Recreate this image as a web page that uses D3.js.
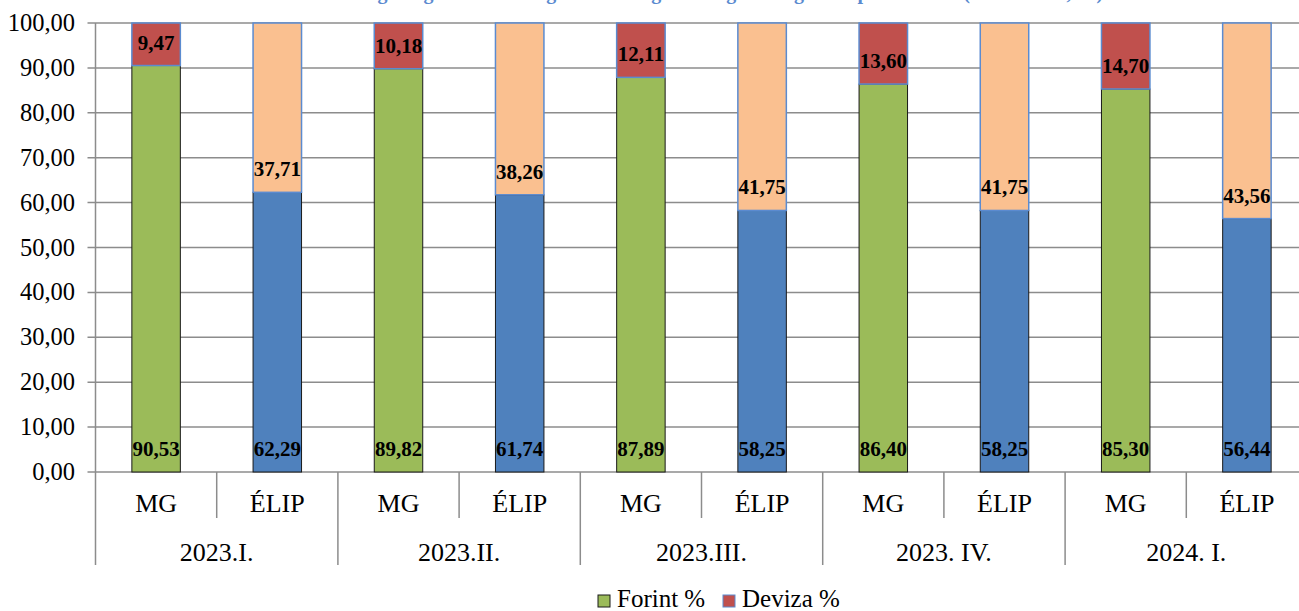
<!DOCTYPE html>
<html lang="hu">
<head>
<meta charset="UTF-8">
<title>Forint / Deviza</title>
<script src="https://d3js.org/d3.v7.min.js"></script>
<style>
    body { margin: 0; padding: 0; background: #fff; }
    svg text { font-family: "Times New Roman", "Liberation Serif", "DejaVu Serif", serif; }
    .grid line { stroke: #8c8c8c; stroke-width: 1.5px; }
    .ylab { font-size: 24.5px; fill: #000; }
    .xlab { font-size: 26px; fill: #000; }
    .val { font-size: 21px; font-weight: bold; fill: #000; }
    .legend text { font-size: 25px; fill: #000; }
</style>
</head>
<body>
<div id="chart"></div>
<script>
    // data
    const periods = ["2023.I.", "2023.II.", "2023.III.", "2023. IV.", "2024. I."];
    const types = ["MG", "ÉLIP"];
    const forint = [90.53, 62.29, 89.82, 61.74, 87.89, 58.25, 86.40, 58.25, 85.30, 56.44];
    const deviza = [9.47, 37.71, 10.18, 38.26, 12.11, 41.75, 13.60, 41.75, 14.70, 43.56];
    const yTicks = [0, 10, 20, 30, 40, 50, 60, 70, 80, 90, 100];
    const seriesNames = ["Forint %", "Deviza %"];
    const title = "A lakossági megtakarítások ágankénti megoszlása gazdasági szereplők szerint (2023 - 2024, %)";

    const W = 1299, H = 611;
    const plotLeft = 95.5, plotTop = 23, plotBottom = 472;

    const svg = d3.select("#chart").append("svg")
        .attr("width", W)
        .attr("height", H)
        .style("display", "block");

    const keys = [];
    periods.forEach((p, i) => types.forEach((t, j) => keys.push(i * 2 + j)));

    const x = d3.scaleBand()
        .domain(keys)
        .range([plotLeft, plotLeft + 121.2 * keys.length])
        .paddingInner(0.6)
        .paddingOuter(0.3);
    const step = x.step();

    const y = d3.scaleLinear().domain([0, 100]).range([plotBottom, plotTop]);

    const fmt = v => v.toFixed(2).replace(".", ",");

    // title (mostly clipped at the top edge like in the picture)
    svg.append("text")
        .attr("x", 700)
        .attr("y", -1)
        .attr("text-anchor", "middle")
        .style("font-size", "20px")
        .style("font-weight", "bold")
        .style("fill", "#5b8bd0")
        .text(title);

    // grid
    svg.append("g").attr("class", "grid")
        .selectAll("line")
        .data(yTicks)
        .enter().append("line")
        .attr("x1", plotLeft - 8)
        .attr("x2", W)
        .attr("y1", d => y(d))
        .attr("y2", d => y(d));

    svg.append("line")
        .attr("x1", plotLeft).attr("x2", plotLeft)
        .attr("y1", plotTop).attr("y2", 565)
        .attr("stroke", "#8c8c8c").attr("stroke-width", 1.5);

    svg.append("g")
        .selectAll("text")
        .data(yTicks)
        .enter().append("text")
        .attr("class", "ylab")
        .attr("x", 75)
        .attr("y", d => y(d) + 8)
        .attr("text-anchor", "end")
        .text(d => fmt(d));

    // bars
    const fColors = ["#9bbb59", "#4f81bd"];
    const dColors = ["#c0504d", "#fac090"];

    const g = svg.append("g");
    keys.forEach(k => {
        const j = k % 2;
        const bx = x(k), bw = x.bandwidth();
        g.append("rect")
            .attr("x", bx).attr("width", bw)
            .attr("y", y(forint[k]))
            .attr("height", y(0) - y(forint[k]))
            .attr("fill", fColors[j])
            .attr("stroke", "#1a1a1a").attr("stroke-width", 1);
        g.append("rect")
            .attr("x", bx).attr("width", bw)
            .attr("y", y(forint[k] + deviza[k]))
            .attr("height", y(forint[k]) - y(forint[k] + deviza[k]))
            .attr("fill", dColors[j])
            .attr("stroke", "#5b8bd0").attr("stroke-width", 1.5);
        g.append("text").attr("class", "val")
            .attr("x", bx + bw / 2)
            .attr("y", y(0) - 16)
            .attr("text-anchor", "middle")
            .text(fmt(forint[k]));
        g.append("text").attr("class", "val")
            .attr("x", bx + bw / 2)
            .attr("y", y(forint[k]) - 16)
            .attr("text-anchor", "middle")
            .text(fmt(deviza[k]));
    });

    // category axis: sub labels and period labels
    const ax = svg.append("g");
    keys.forEach(k => {
        const sx = x(k) + x.bandwidth() / 2;
        ax.append("text").attr("class", "xlab")
            .attr("x", sx).attr("y", 512)
            .attr("text-anchor", "middle")
            .text(types[k % 2]);
        if (k % 2 === 1) {
            ax.append("line")
                .attr("x1", sx - step / 2).attr("x2", sx - step / 2)
                .attr("y1", plotBottom).attr("y2", 518)
                .attr("stroke", "#8c8c8c").attr("stroke-width", 1.5);
        }
    });
    periods.forEach((p, i) => {
        const x0 = x(i * 2) - step * 0.3;
        const x1 = x0 + step * 2;
        ax.append("line")
            .attr("x1", x1).attr("x2", x1)
            .attr("y1", plotBottom).attr("y2", 565)
            .attr("stroke", "#8c8c8c").attr("stroke-width", 1.5);
        ax.append("text").attr("class", "xlab")
            .attr("x", (x0 + x1) / 2).attr("y", 561)
            .attr("text-anchor", "middle")
            .text(p);
    });

    // legend
    const leg = svg.append("g").attr("class", "legend");
    const legX = [598, 723];
    seriesNames.forEach((n, i) => {
        leg.append("rect")
            .attr("x", legX[i]).attr("y", 595)
            .attr("width", 12).attr("height", 12)
            .attr("fill", i === 0 ? fColors[0] : dColors[0])
            .attr("stroke", i === 0 ? "#1a1a1a" : "#5b8bd0")
            .attr("stroke-width", 1);
        leg.append("text")
            .attr("x", legX[i] + 19).attr("y", 607)
            .text(n);
    });
</script>
</body>
</html>
